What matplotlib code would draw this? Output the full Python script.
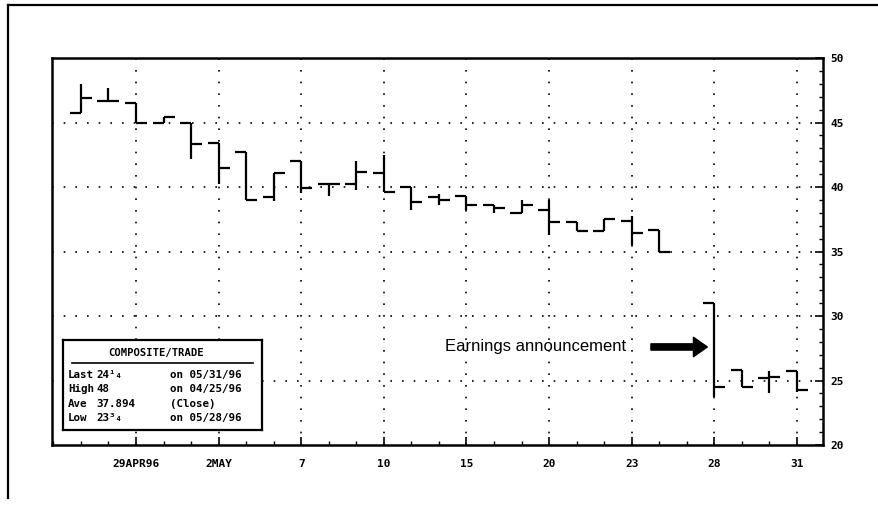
"""Daily price bars for COMPOSITE/TRADE, Apr-May 1996"""

import matplotlib

matplotlib.use("Agg")
import matplotlib.pyplot as plt
import numpy as np
import pandas as pd
from matplotlib.lines import Line2D
from matplotlib.ticker import FixedLocator, MultipleLocator

DATES = [
    "1996-04-25", "1996-04-26", "1996-04-29", "1996-04-30", "1996-05-01",
    "1996-05-02", "1996-05-03", "1996-05-06", "1996-05-07", "1996-05-08",
    "1996-05-09", "1996-05-10", "1996-05-13", "1996-05-14", "1996-05-15",
    "1996-05-16", "1996-05-17", "1996-05-20", "1996-05-21", "1996-05-22",
    "1996-05-23", "1996-05-24", "1996-05-28", "1996-05-29", "1996-05-30",
    "1996-05-31",
]
OPENS = [45.7, 46.7, 46.5, 45.0, 45.0, 43.4, 42.75, 39.2, 42.0, 40.25, 40.25, 41.1, 40.0,
         39.2, 39.3, 38.6, 37.95, 38.2, 37.25, 36.6, 37.4, 36.7, 31.0, 25.8, 25.2, 25.75]
HIGHS = [48.0, 47.7, 46.5, 45.4, 45.0, 43.4, 42.75, 41.1, 42.0, 40.25, 42.05, 42.5, 40.0,
         39.45, 39.3, 38.6, 39.0, 39.0, 37.25, 37.5, 37.75, 36.7, 31.0, 25.8, 25.7, 25.75]
LOWS = [45.7, 46.7, 45.0, 45.0, 42.2, 40.25, 39.0, 38.9, 39.5, 39.3, 39.75, 39.6, 38.25,
        38.6, 38.25, 38.0, 37.95, 36.3, 36.6, 36.6, 35.5, 35.0, 23.75, 24.5, 24.0, 24.1]
CLOSES = [46.9, 46.7, 45.0, 45.4, 43.3, 41.5, 39.0, 41.1, 39.9, 40.25, 41.2, 39.6, 38.85,
          39.0, 38.6, 38.35, 38.6, 37.25, 36.6, 37.5, 36.4, 35.0, 24.5, 24.5, 25.25, 24.25]

TICK_DATES = ["1996-04-29", "1996-05-02", "1996-05-07", "1996-05-10", "1996-05-15",
              "1996-05-20", "1996-05-23", "1996-05-28", "1996-05-31"]
TICK_LABELS = ["29APR96", "2MAY", "7", "10", "15", "20", "23", "28", "31"]
Y_TICKS = [20, 25, 30, 35, 40, 45, 50]

STATS = [
    ("Last", "24\u00b9\u2084", "on 05/31/96"),
    ("High", "48", "on 04/25/96"),
    ("Ave", "37.894", "(Close)"),
    ("Low", "23\u00b3\u2084", "on 05/28/96"),
]
EVENT_DATE = "1996-05-28"

MONO = ["DejaVu Sans Mono", "DejaVu Sans"]


def main():
    # weekday axis: holidays leave a gap, weekends do not
    days = pd.bdate_range(DATES[0], DATES[-1])
    pos = {d: i for i, d in enumerate(days)}
    x = np.array([pos[pd.Timestamp(d)] for d in DATES])

    fig = plt.figure(figsize=(8.79, 5.08), dpi=100)
    ax = fig.add_axes([0.0592, 0.124, 0.8771, 0.7618])

    w = 0.4
    ax.vlines(x, LOWS, HIGHS, color="black", lw=1.6)
    ax.hlines(OPENS, x - w, x, color="black", lw=1.6)
    ax.hlines(CLOSES, x, x + w, color="black", lw=1.6)

    ax.set_xlim(-1.05, len(days) - 0.05)
    ax.set_ylim(20, 50)

    tick_x = [pos[pd.Timestamp(d)] for d in TICK_DATES]
    ax.xaxis.set_major_locator(FixedLocator(tick_x))
    ax.set_xticklabels(TICK_LABELS)
    ax.xaxis.set_minor_locator(MultipleLocator(1))
    ax.yaxis.set_major_locator(FixedLocator(Y_TICKS))
    ax.yaxis.set_minor_locator(MultipleLocator(1))
    ax.yaxis.tick_right()
    ax.tick_params(axis="both", which="major", direction="in", length=6, width=1.2,
                   labelsize=8, pad=5)
    ax.tick_params(axis="x", which="major", pad=10)
    ax.tick_params(axis="both", which="minor", direction="in", length=3, width=1)
    for lab in ax.get_xticklabels() + ax.get_yticklabels():
        lab.set_fontweight("bold")
        lab.set_family(MONO)

    for t in tick_x:
        ax.axvline(t, color="black", lw=1.2, ls=(0, (1, 6)), zorder=0)
    for v in Y_TICKS[1:-1]:
        ax.axhline(v, color="black", lw=1.2, ls=(0, (1, 6)), zorder=0)

    for sp in ax.spines.values():
        sp.set_linewidth(1.8)

    # earnings annotation pointing at the gap-down bar
    ex = pos[pd.Timestamp(EVENT_DATE)]
    ax.annotate("", xy=(ex - 0.15, 27.6), xytext=(ex - 2.4, 27.6),
                arrowprops=dict(arrowstyle="simple,head_length=1.0,head_width=1.4,tail_width=0.45",
                                color="black"))
    ax.text(ex - 3.2, 27.6, "Earnings announcement", ha="right", va="center",
            fontsize=12, family="Liberation Sans")

    # stats box
    box = fig.add_axes([0.0717, 0.1535, 0.2264, 0.177])
    box.set_xticks([])
    box.set_yticks([])
    for sp in box.spines.values():
        sp.set_linewidth(1.6)
    box.text(0.47, 0.86, "COMPOSITE/TRADE", ha="center", va="center", fontsize=7.6,
             fontweight="bold", family=MONO, transform=box.transAxes)
    box.plot([0.045, 0.955], [0.75, 0.75], color="black", lw=1.2, transform=box.transAxes)
    row_y = [0.61, 0.455, 0.29, 0.135]
    for (name, val, note), yy in zip(STATS, row_y):
        box.text(0.025, yy, name, ha="left", va="center", fontsize=7.8, fontweight="bold",
                 family=MONO, transform=box.transAxes)
        box.text(0.17, yy, val, ha="left", va="center", fontsize=7.8, fontweight="bold",
                 family=MONO, transform=box.transAxes)
        box.text(0.54, yy, note, ha="left", va="center", fontsize=7.8, fontweight="bold",
                 family=MONO, transform=box.transAxes)

    # page frame of the scanned figure
    fig.add_artist(Line2D([0.009, 1.0], [0.99, 0.99], color="black", lw=1.6,
                          transform=fig.transFigure))
    fig.add_artist(Line2D([0.009, 0.009], [0.99, 0.02], color="black", lw=1.6,
                          transform=fig.transFigure))

    fig.savefig("out.png", dpi=100)


if __name__ == "__main__":
    main()
